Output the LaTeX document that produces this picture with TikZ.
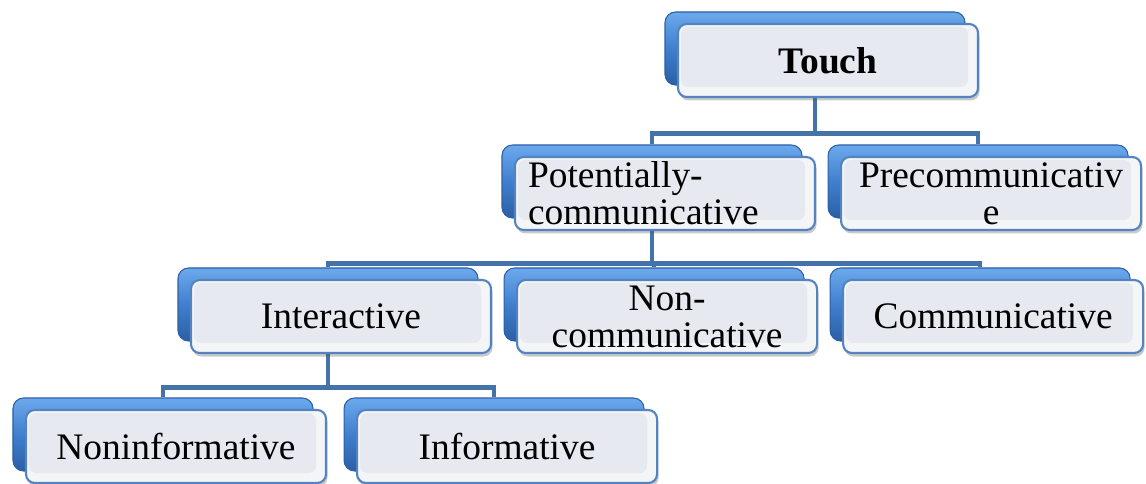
\documentclass[tikz,border=0pt]{standalone}
\usepackage{fontspec}
\setmainfont{Liberation Serif}
\usepackage{tikz}
\usetikzlibrary{positioning,backgrounds,shadows}
\definecolor{TchBlue}{HTML}{3F7FCE}
\definecolor{TchBlueHi}{HTML}{6CA9EC}
\definecolor{TchBlueLo}{HTML}{2C5FA6}
\definecolor{TchEdge}{HTML}{5383C0}
\definecolor{TchRim}{HTML}{F4F5F7}
\definecolor{TchFace}{HTML}{E6E9F0}
\definecolor{TchLink}{HTML}{4672AA}

\begin{document}
\begin{tikzpicture}[
  backbox/.style={rounded corners=6pt, minimum width=6cm, minimum height=1.46cm,
    top color=TchBlueHi, bottom color=TchBlueLo, middle color=TchBlue, draw=TchBlueLo, line width=0.6pt},
  facebox/.style={rounded corners=5pt, minimum width=6cm, minimum height=1.46cm,
    text width=5.48cm, inner xsep=0.26cm, inner ysep=0pt, align=center,
    draw=TchEdge, line width=1.2pt, fill=TchRim,
    drop shadow={shadow xshift=0.03cm, shadow yshift=-0.07cm, opacity=0.3, fill=black!70},
    path picture={\fill[TchFace, rounded corners=4pt]
      ([shift={(0.06,-0.06)}]path picture bounding box.north west) rectangle
      ([shift={(-0.2,0.2)}]path picture bounding box.south east);},
    font=\fontsize{21.3}{21}\selectfont},
  link/.style={TchLink, line width=2.6pt}]
  \useasboundingbox (0,0) rectangle (22.92,-9.68);

  \node[backbox] (touchbk) at (16.30,-0.97) {};
  \node[facebox] (touch) at ([xshift=0.26cm,yshift=-0.24cm]touchbk.center) {\textbf{Touch}};

  \node[backbox] (potbk) at (13.04,-3.63) {};
  \node[backbox, right=0.5cm of potbk] (prebk) {};
  \node[facebox, align=left] (pot) at ([xshift=0.26cm,yshift=-0.24cm]potbk.center) {Potentially-\\communicative};
  \node[facebox] (pre) at ([xshift=0.26cm,yshift=-0.24cm]prebk.center) {Precommunicativ\\e};

  \node[backbox] (interbk) at (6.56,-6.09) {};
  \node[backbox, right=0.5cm of interbk] (noncombk) {};
  \node[backbox, right=0.5cm of noncombk] (combk) {};
  \node[facebox] (inter) at ([xshift=0.26cm,yshift=-0.24cm]interbk.center) {Interactive};
  \node[facebox] (noncom) at ([xshift=0.26cm,yshift=-0.24cm]noncombk.center) {Non-\\communicative};
  \node[facebox] (com) at ([xshift=0.26cm,yshift=-0.24cm]combk.center) {Communicative};

  \node[backbox] (noninfbk) at (3.26,-8.69) {};
  \node[backbox, right=0.6cm of noninfbk] (infbk) {};
  \node[facebox] (noninf) at ([xshift=0.26cm,yshift=-0.24cm]noninfbk.center) {Noninformative};
  \node[facebox] (inf) at ([xshift=0.26cm,yshift=-0.24cm]infbk.center) {Informative};

  \begin{scope}[on background layer]
    \draw[link] (touchbk.south) -- ++(0,-0.96) -| (potbk.north);
    \draw[link] (touchbk.south) -- ++(0,-0.96) -| (prebk.north);
    \draw[link] (potbk.south) -- ++(0,-0.9) -| (interbk.north);
    \draw[link] (potbk.south) -- ++(0,-0.9) -| (noncombk.north);
    \draw[link] (potbk.south) -- ++(0,-0.9) -| (combk.north);
    \draw[link] (interbk.south) -- ++(0,-0.92) -| (noninfbk.north);
    \draw[link] (interbk.south) -- ++(0,-0.92) -| (infbk.north);
  \end{scope}
\end{tikzpicture}
\end{document}
